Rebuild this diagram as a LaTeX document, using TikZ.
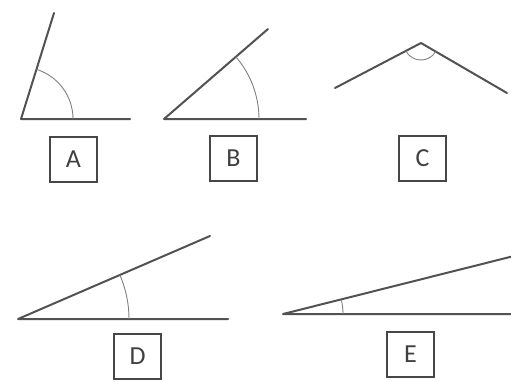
\documentclass[tikz,border=0pt]{standalone}
\usepackage{fontspec}
\setmainfont{Carlito}
\begin{document}
\begin{tikzpicture}[x=1pt,y=1pt,
  ray/.style={draw=black!68,line width=2pt,line cap=round,line join=round},
  anglearc/.style={draw=black!50,line width=0.9pt},
  labelbox/.style={draw=black!72,line width=1.2pt,minimum width=47pt,minimum height=45pt,inner sep=0pt,
    font=\fontsize{26}{26}\selectfont,text=black!75}]
\useasboundingbox (0,0) rectangle (511,381);
% A
\coordinate (Av) at (21,262);
\coordinate (Ar) at (54,368);
\coordinate (Ab) at (130,262);
\draw[ray] (Ar) -- (Av) -- (Ab);
\draw[anglearc] (Av) ++(52,0) arc[start angle=0,end angle=72.7,radius=52];
\node[labelbox] (A) at (73.5,221.5) {A};
% B
\coordinate (Bv) at (164,262);
\coordinate (Br) at (268,352);
\coordinate (Bb) at (306,262);
\draw[ray] (Br) -- (Bv) -- (Bb);
\draw[anglearc] (Bv) ++(95,0) arc[start angle=0,end angle=40.9,radius=95];
\node[labelbox] (B) at (233.5,222.5) {B};
% C
\coordinate (Cl) at (335,293);
\coordinate (Ca) at (421,338);
\coordinate (Cr) at (507,288);
\draw[ray] (Cl) -- (Ca) -- (Cr);
\draw[anglearc] (Ca) ++(207.6:17) arc[start angle=207.6,end angle=329.8,radius=17];
\node[labelbox] (C) at (422.5,222.5) {C};
% D
\coordinate (Dv) at (18,62);
\coordinate (Dr) at (210,145);
\coordinate (Db) at (228,62);
\draw[ray] (Dr) -- (Dv) -- (Db);
\draw[anglearc] (Dv) ++(111,0) arc[start angle=0,end angle=23.4,radius=111];
\node[labelbox] (D) at (137.5,24.5) {D};
% E
\coordinate (Ev) at (283,67);
\coordinate (Er) at (512,124.5);
\coordinate (Eb) at (512,67);
\draw[ray] (Er) -- (Ev) -- (Eb);
\draw[anglearc] (Ev) ++(60,0) arc[start angle=0,end angle=14.1,radius=60];
\node[labelbox] (E) at (410.5,26.5) {E};
\end{tikzpicture}
\end{document}
